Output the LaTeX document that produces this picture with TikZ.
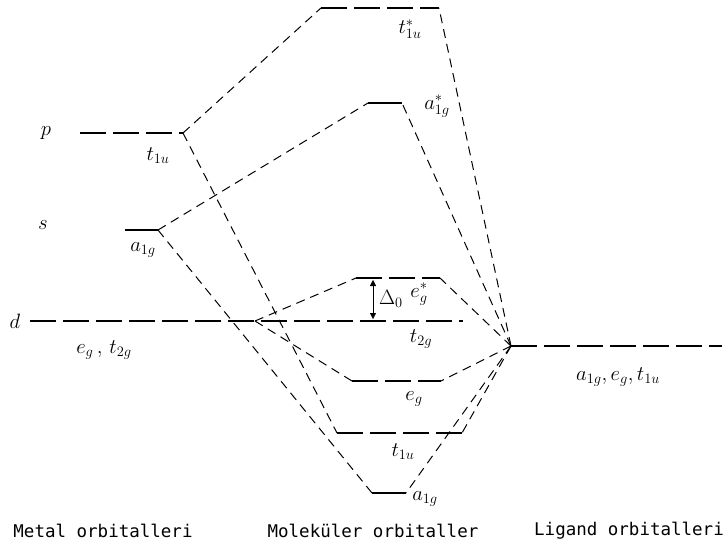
\documentclass[tikz,border=0pt]{standalone}
\usepackage{fontspec}
\newfontfamily\capfont{DejaVu Sans Mono}
\usetikzlibrary{arrows.meta}
\tikzset{level/.style={line width=1.6pt,dash pattern=on 26pt off 7pt},
 shortlevel/.style={line width=1.6pt},
 link/.style={line width=1pt,dash pattern=on 9pt off 6pt},
 lab/.style={font=\huge},
 colname/.style={font=\capfont\fontsize{17.5}{20}\selectfont}}

\begin{document}
\begin{tikzpicture}[x=1pt,y=-1pt]
\useasboundingbox (0,0) rectangle (726,552);
% metal levels
\coordinate (pL) at (80,133); \coordinate (p) at (183,133);
\coordinate (sL) at (125,230); \coordinate (s) at (158,230);
\coordinate (dL) at (30,321); \coordinate (d) at (255,321);
% molecular levels
\coordinate (t1usL) at (321,8); \coordinate (t1usR) at (439,8);
\coordinate (a1gsL) at (368,103); \coordinate (a1gsR) at (402,103);
\coordinate (egsL) at (356,278); \coordinate (egsR) at (440,278);
\coordinate (t2gR) at (463,321);
\coordinate (egL) at (352,381); \coordinate (egR) at (441,381);
\coordinate (t1uL) at (337,433); \coordinate (t1uR) at (462,433);
\coordinate (a1gL) at (372,493); \coordinate (a1gR) at (406,493);
% ligand
\coordinate (lig) at (511,346); \coordinate (ligR) at (722,346);

\draw[level] (pL)--(p); \draw[shortlevel] (sL)--(s);
\draw[level] (dL)--(d)--(t2gR);
\draw[level] (t1usL)--(t1usR); \draw[shortlevel] (a1gsL)--(a1gsR);
\draw[level] (egsL)--(egsR); \draw[level] (egL)--(egR);
\draw[level] (t1uL)--(t1uR); \draw[shortlevel] (a1gL)--(a1gR);
\draw[level] (lig)--(ligR);

% metal to MO
\draw[link] (p)--(t1usL); \draw[link] (p)--(t1uL);
\draw[link] (s)--(a1gsL); \draw[link] (s)--(a1gL);
\draw[link] (d)--(egsL); \draw[link] (d)--(egL);
% ligand to MO
\foreach \m in {t1usR,a1gsR,egsR,egR,t1uR,a1gR}
  \draw[link] (lig)--(\m);

% splitting
\coordinate (d0a) at (373,280); \coordinate (d0b) at (373,319);
\draw[{Triangle[length=6pt,width=6pt]}-{Triangle[length=6pt,width=6pt]}] (d0a)--(d0b);
\node[lab] (delta) at (391,299) {$\Delta_0$};

% labels
\node[lab] (pl) at (46,133) {$p$};
\node[lab] (sl) at (43,225) {$s$};
\node[lab] (dl) at (15,321) {$d$};
\node[lab] (t1ul) at (158,156) {$t_{1u}$};
\node[lab] (a1gl) at (143,250) {$a_{1g}$};
\node[lab] (egt2g) at (104,350) {$e_g\,,\,t_{2g}$};
\node[lab] (t1usl) at (410,29) {$t_{1u}^*$};
\node[lab] (a1gsl) at (437,106) {$a_{1g}^*$};
\node[lab] (egsl) at (419,294) {$e_g^*$};
\node[lab] (t2gl) at (421,339) {$t_{2g}$};
\node[lab] (egl) at (414,399) {$e_g$};
\node[lab] (t1um) at (403,452) {$t_{1u}$};
\node[lab] (a1gm) at (425,499) {$a_{1g}$};
\node[lab] (ligl) at (618,377) {$a_{1g}, e_g, t_{1u}$};

\node[colname] (metal) at (103,531) {Metal orbitalleri};
\node[colname] (mol) at (373,531) {Moleküler orbitaller};
\node[colname] (ligc) at (629,531) {Ligand orbitalleri};
\end{tikzpicture}
\end{document}
